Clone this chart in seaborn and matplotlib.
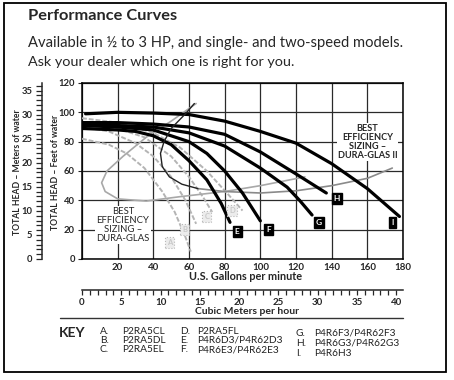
import seaborn as sns
import matplotlib.pyplot as plt
from matplotlib.patches import Rectangle
from matplotlib.lines import Line2D

# pump curves: flow (US gpm) vs total head (feet of water)
a_gpm = [0, 15, 25, 35, 45, 52, 58, 61]
a_ft = [82, 78, 72, 62, 46, 32, 15, 5]
b_gpm = [0, 15, 30, 40, 50, 58, 64]
b_ft = [90, 87, 79, 70, 56, 40, 24]
c_gpm = [0, 20, 35, 50, 60, 68, 73]
c_ft = [93, 89, 83, 70, 56, 42, 32]
d_gpm = [0, 20, 40, 55, 70, 82, 90]
d_ft = [96, 93, 86, 76, 60, 44, 33]

e_gpm = [0, 20, 30, 40, 50, 60, 70, 78, 83]
e_ft = [89, 88, 87, 84, 78, 67, 54, 38, 25]
f_gpm = [0, 20, 40, 60, 70, 80, 90, 100]
f_ft = [91, 90, 88, 80, 72, 60, 45, 26]
g_gpm = [0, 20, 40, 60, 80, 100, 115, 122, 129]
g_ft = [91, 91, 90, 86, 77, 62, 49, 40, 30]
h_gpm = [0, 20, 40, 60, 80, 100, 120, 137]
h_ft = [93, 93, 92, 90, 85, 73, 58, 45]
i_gpm = [2, 20, 40, 60, 80, 100, 120, 140, 160, 178]
i_ft = [99, 100, 99.5, 98.5, 94, 87, 79, 65, 48, 29]

# best efficiency sizing lines
bep1_gpm = [64, 50, 36, 23, 14, 11, 13, 20, 36, 55, 80, 100, 125]
bep1_ft = [106, 94, 83, 70, 60, 52, 46, 41, 39.5, 42.5, 46, 50, 56]
bep2_gpm = [63, 58, 50, 46, 44, 45, 49, 56, 65]
bep2_ft = [106, 99, 89, 80, 72, 63, 56, 51, 48]
bep2b_gpm = [65, 80, 100, 120, 140, 160, 174]
bep2b_ft = [48, 46, 45, 46.5, 50, 55, 62]

gray_curves = [("A", a_gpm, a_ft), ("B", b_gpm, b_ft), ("C", c_gpm, c_ft), ("D", d_gpm, d_ft)]
black_curves = [("E", e_gpm, e_ft), ("F", f_gpm, f_ft), ("G", g_gpm, g_ft),
                ("H", h_gpm, h_ft), ("I", i_gpm, i_ft)]
gray_tags = {"A": (49, 11), "B": (57.5, 20), "C": (70, 29), "D": (84, 33)}
black_tags = {"E": (87, 19), "F": (104.5, 20), "G": (133, 25), "H": (143, 41), "I": (174, 25)}

key_col1 = [("A.", "P2RA5CL"), ("B.", "P2RA5DL"), ("C.", "P2RA5EL")]
key_col2 = [("D.", "P2RA5FL"), ("E.", "P4R6D3/P4R62D3"), ("F.", "P4R6E3/P4R62E3")]
key_col3 = [("G.", "P4R6F3/P4R62F3"), ("H.", "P4R6G3/P4R62G3"), ("I.", "P4R6H3")]

sns.set_style("white")
plt.rcParams["font.family"] = ["Lato", "DejaVu Sans"]

W, H = 454, 380
fig = plt.figure(figsize=(W / 100, H / 100), dpi=100)


def fx(x):
    return x / W


def fy(y):
    return 1 - y / H


L, R, T, B = 82, 403, 83, 259
ax = fig.add_axes([fx(L), fy(B), (R - L) / W, (B - T) / H])

for name, gx, gy in gray_curves:
    sns.lineplot(x=gx, y=gy, ax=ax, sort=False, estimator=None, color="#b4b4b4",
                 lw=1.4, linestyle=(0, (2.5, 1)), zorder=3)
sns.lineplot(x=bep1_gpm, y=bep1_ft, ax=ax, sort=False, estimator=None, color="#a8a8a8",
             lw=1.2, zorder=3)
sns.lineplot(x=bep2b_gpm, y=bep2b_ft, ax=ax, sort=False, estimator=None, color="#8a8a8a",
             lw=1.2, zorder=3)
for name, gx, gy in black_curves:
    sns.lineplot(x=gx, y=gy, ax=ax, sort=False, estimator=None, color="black",
                 lw=2.3, zorder=4)
sns.lineplot(x=bep2_gpm, y=bep2_ft, ax=ax, sort=False, estimator=None, color="#222222",
             lw=1.0, zorder=5)

ax.set_xlim(0, 180)
ax.set_ylim(0, 120)
ax.set_xticks(range(0, 181, 20))
ax.set_xticklabels([""] + [str(v) for v in range(20, 181, 20)])
ax.set_yticks(range(0, 121, 20))
ax.grid(True, color="#2a2a2a", lw=0.9)
ax.set_axisbelow(True)
for s in ax.spines.values():
    s.set_color("black")
    s.set_linewidth(1.1)
ax.tick_params(axis="x", length=0, pad=3, labelsize=7)
ax.tick_params(axis="y", length=3, pad=2, labelsize=6.8, left=True)
for t in ax.get_xticklabels() + ax.get_yticklabels():
    t.set_fontweight("bold")
ax.set_xlabel("")
ax.set_ylabel("")

for name, (tx, ty) in gray_tags.items():
    ax.text(tx, ty, name, ha="center", va="center", fontsize=5.5, color="#c8c8c8",
            fontweight="bold", zorder=6,
            bbox=dict(boxstyle="square,pad=0.25", fc="#ececec", ec="#b8b8b8", lw=0.8, ls=":"))
for name, (tx, ty) in black_tags.items():
    ax.text(tx, ty, name, ha="center", va="center", fontsize=6, color="white",
            fontweight="bold", zorder=6,
            bbox=dict(boxstyle="square,pad=0.25", fc="black", ec="black"))

ax.text(23, 23, "BEST\nEFFICIENCY\nSIZING \u2013\nDURA-GLAS", ha="center", va="center",
        fontsize=6.8, linespacing=1.0, zorder=6,
        bbox=dict(boxstyle="square,pad=0.1", fc="white", ec="none"))
ax.text(160, 79.5, "BEST\nEFFICIENCY\nSIZING \u2013\nDURA-GLAS II", ha="center", va="center",
        fontsize=6.6, linespacing=1.0, fontweight="bold", zorder=6,
        bbox=dict(boxstyle="square,pad=0.1", fc="white", ec="none"))

# meters of water scale
axm = fig.add_axes([fx(42), fy(B), 0.0001, (B - T) / H])
axm.set_ylim(0, 120 * 0.3048)
axm.set_yticks(range(0, 36, 5))
axm.set_yticks(range(0, 37), minor=True)
axm.tick_params(axis="y", which="both", length=4.5, direction="out", width=0.9,
                labelsize=6.8, pad=2.5, left=True)
axm.set_xticks([])
for side in ["top", "right", "bottom"]:
    axm.spines[side].set_visible(False)
axm.spines["left"].set_linewidth(1.1)
for t in axm.get_yticklabels():
    t.set_fontweight("bold")

# cubic meters per hour scale
axc = fig.add_axes([fx(L), fy(290), (R - L) / W, 0.0001])
axc.set_xlim(0, 180 / 4.4029)
axc.set_xticks(range(0, 41, 5))
axc.set_xticks(range(0, 41), minor=True)
axc.tick_params(axis="x", which="both", length=3.5, direction="out", width=0.9,
                labelsize=7, pad=2, bottom=True)
axc.set_yticks([])
for side in ["top", "right", "left"]:
    axc.spines[side].set_visible(False)
axc.spines["bottom"].set_linewidth(1.1)
for t in axc.get_xticklabels():
    t.set_fontweight("bold")

# text around the chart
fig.text(fx(28), fy(16), "Performance Curves", fontsize=11.8, fontweight="bold", va="center")
fig.text(fx(28), fy(43), "Available in \u00bd to 3 HP, and single- and two-speed models.",
         fontsize=10.6, va="center")
fig.text(fx(28), fy(62), "Ask your dealer which one is right for you.", fontsize=10.4,
         va="center")
fig.text(fx(18), fy(172), "TOTAL HEAD \u2013 Meters of water", rotation=90, fontsize=6.2,
         fontweight="bold", ha="center", va="center")
fig.text(fx(56), fy(172), "TOTAL HEAD \u2013 Feet of water", rotation=90, fontsize=6.2,
         fontweight="bold", ha="center", va="center")
fig.text(fx(246), fy(277), "U.S. Gallons per minute", fontsize=7.8, fontweight="bold",
         ha="center", va="center")
fig.text(fx(247), fy(311), "Cubic Meters per hour", fontsize=7.5, fontweight="bold",
         ha="center", va="center")

fig.add_artist(Line2D([fx(60), fx(403)], [fy(318), fy(318)], color="#333333", lw=1))
fig.add_artist(Rectangle((fx(4), fy(372)), (446 - 4) / W, (372 - 3) / H, fill=False,
                         ec="black", lw=1.3, transform=fig.transFigure))

fig.text(fx(59), fy(333), "KEY", fontsize=10, fontweight="bold", va="center")
for i, (k, s) in enumerate(key_col1):
    fig.text(fx(100), fy(331 + 9.3 * i), k, fontsize=7.3, va="center", color="#222222")
    fig.text(fx(122), fy(331 + 9.3 * i), s, fontsize=7.3, va="center", color="#222222")
for i, (k, s) in enumerate(key_col2):
    fig.text(fx(180), fy(331 + 9.3 * i), k, fontsize=7.3, va="center", color="#222222")
    fig.text(fx(197), fy(331 + 9.3 * i), s, fontsize=7.3, va="center", color="#222222")
for i, (k, s) in enumerate(key_col3):
    fig.text(fx(296), fy(333 + 10.5 * i), k, fontsize=7.3, va="center", color="#222222")
    fig.text(fx(314), fy(333 + 10.5 * i), s, fontsize=7.3, va="center", color="#222222")

fig.savefig("out.png", dpi=100)
